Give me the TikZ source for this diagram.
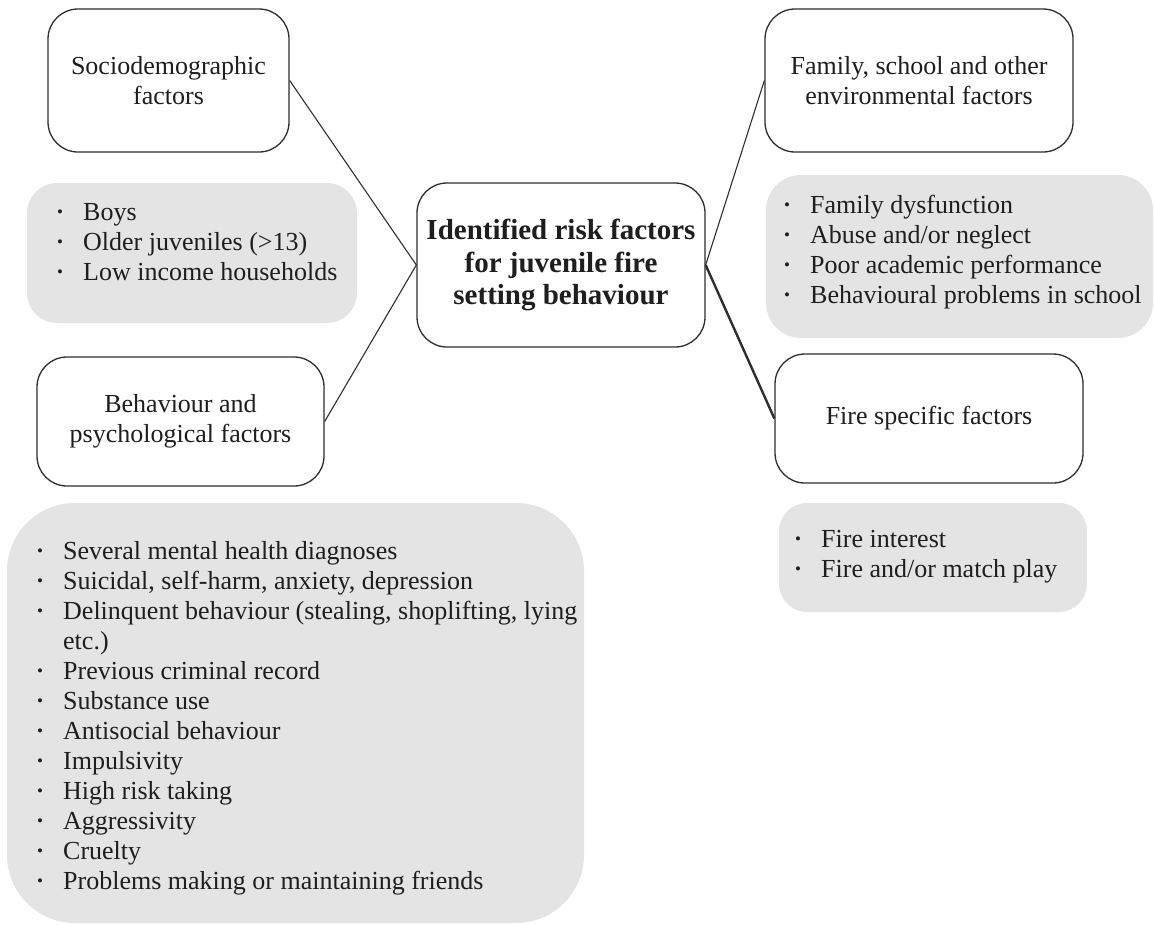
\documentclass[tikz,border=0pt]{standalone}
\usepackage{fontspec}
\setmainfont{Liberation Serif}
\definecolor{linec}{HTML}{2E2E2E}
\definecolor{txt}{HTML}{1E1E1E}
\definecolor{grayf}{HTML}{E4E4E4}
\newcommand\blt{\makebox[26pt][l]{\raisebox{2.5pt}{\fontsize{17}{17}\selectfont •}}}
\begin{document}
\begin{tikzpicture}[x=1pt,y=-1pt,
  wbox/.style={draw=linec, line width=1.3pt, fill=white, rounded corners=30pt, inner sep=0pt, align=center, font=\fontsize{26}{30}\selectfont, text=txt},
  gbox/.style={fill=grayf, draw=none, inner sep=0pt},
  listtext/.style={inner sep=0pt, align=left, anchor=base west, font=\fontsize{26}{30}\selectfont, text=txt},
  conn/.style={draw=linec, line width=1.1pt},
  connthick/.style={draw=linec, line width=2.4pt}]
\useasboundingbox (0,0) rectangle (1155,924);

% grey panels
\node[gbox, rounded corners=30pt, minimum width=330pt, minimum height=140pt] (socbg) at (192,253) {};
\node[gbox, rounded corners=35pt, minimum width=387pt, minimum height=163pt] (fambg) at (959.5,256.5) {};
\node[gbox, rounded corners=28pt, minimum width=308pt, minimum height=109pt] (firebg) at (933,557.5) {};
\node[gbox, rounded corners=68pt, minimum width=577pt, minimum height=420pt] (behbg) at (295.5,713) {};

% white boxes
\node[wbox, minimum width=241pt, minimum height=143pt] (soc) at (168.5,80.5) {Sociodemographic\\factors};
\node[wbox, minimum width=287pt, minimum height=129pt] (beh) at (180.5,421.5) {Behaviour and\\psychological factors};
\node[wbox, minimum width=288pt, minimum height=164pt, font=\bfseries\fontsize{29}{32.5}\selectfont] (cen) at (561,265) {Identified risk factors\\for juvenile fire\\setting behaviour};
\node[wbox, minimum width=308pt, minimum height=143pt] (fam) at (919,80.5) {Family, school and other\\environmental factors};
\node[wbox, minimum width=308pt, minimum height=129pt] (fire) at (929,418.5) {Fire specific factors};

% connectors
\draw[conn] (soc.east) -- (cen.west);
\draw[conn] (beh.east) -- (cen.west);
\draw[conn] (cen.east) -- (fam.west);
\draw[connthick] (cen.east) -- (fire.west);

% lists (base anchor = baseline of last line)
\node[listtext] (soclist) at (57,280) {\blt Boys\\\blt Older juveniles (>13)\\\blt Low income households};
\node[listtext] (famlist) at (784,303) {\blt Family dysfunction\\\blt Abuse and/or neglect\\\blt Poor academic performance\\\blt Behavioural problems in school};
\node[listtext] (firelist) at (795,577) {\blt Fire interest\\\blt Fire and/or match play};
\node[listtext] (behlist) at (37,889) {\blt Several mental health diagnoses\\
\blt Suicidal, self-harm, anxiety, depression\\
\blt Delinquent behaviour (stealing, shoplifting, lying\\
\hspace*{26pt}etc.)\\
\blt Previous criminal record\\
\blt Substance use\\
\blt Antisocial behaviour\\
\blt Impulsivity\\
\blt High risk taking\\
\blt Aggressivity\\
\blt Cruelty\\
\blt Problems making or maintaining friends};
\end{tikzpicture}
\end{document}
